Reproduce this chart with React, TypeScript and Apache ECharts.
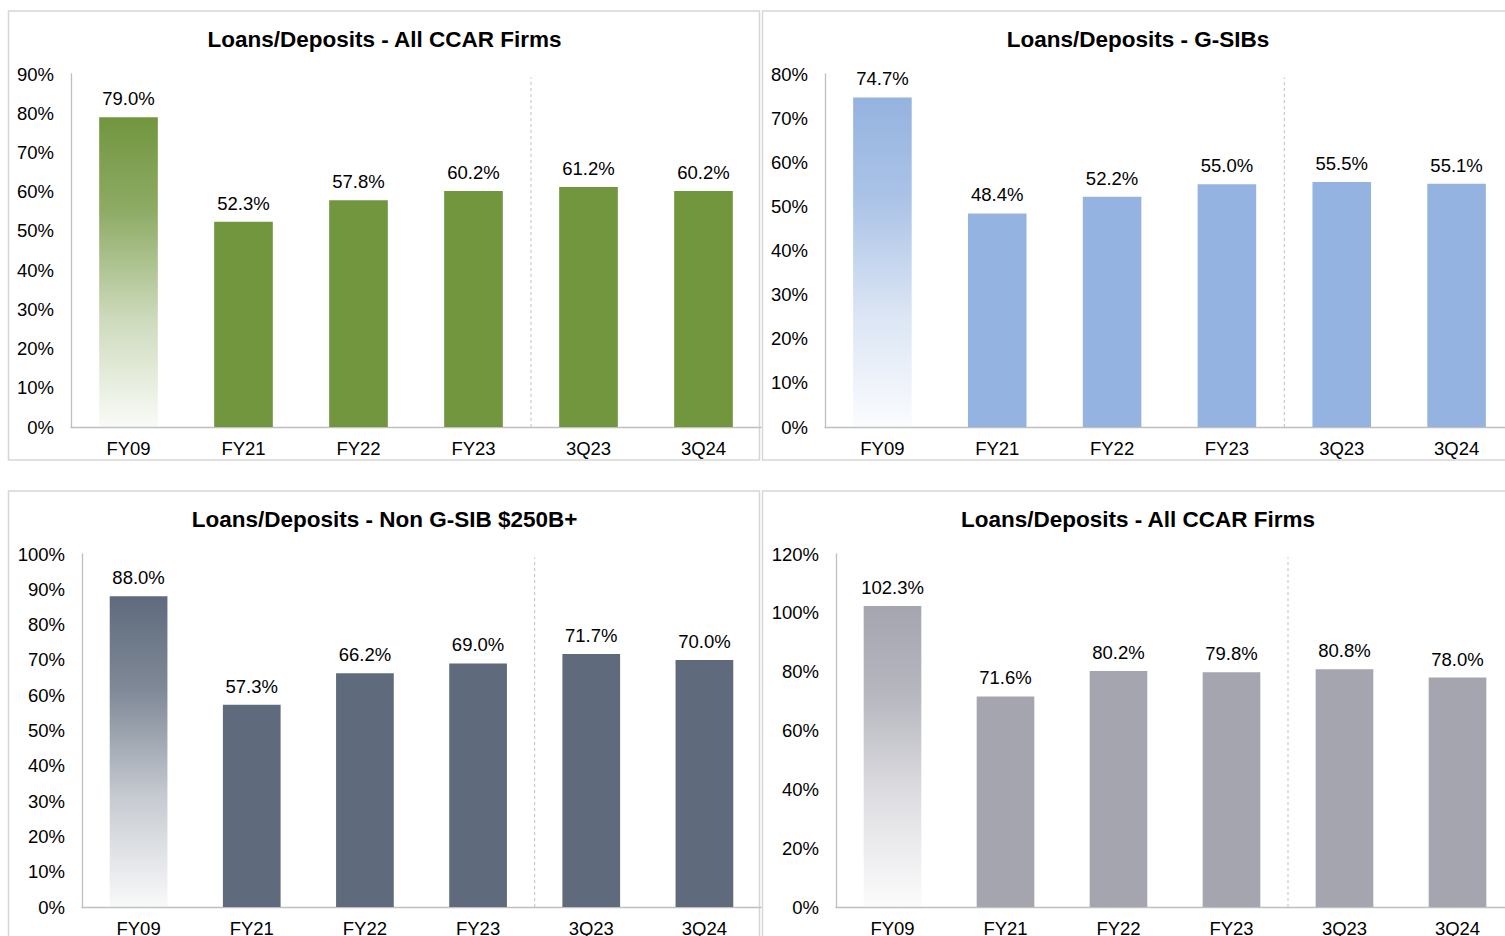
import React, { useEffect, useRef } from "react";
import * as echarts from "echarts";

const categories = ["FY09", "FY21", "FY22", "FY23", "3Q23", "3Q24"];

const titles = [
  "Loans/Deposits - All CCAR Firms",
  "Loans/Deposits - G-SIBs",
  "Loans/Deposits - Non G-SIB $250B+",
  "Loans/Deposits - All CCAR Firms",
];

const allCcarValues = [79.0, 52.3, 57.8, 60.2, 61.2, 60.2];
const gsibValues = [74.7, 48.4, 52.2, 55.0, 55.5, 55.1];
const nonGsibValues = [88.0, 57.3, 66.2, 69.0, 71.7, 70.0];
const allCcar2Values = [102.3, 71.6, 80.2, 79.8, 80.8, 78.0];

const seriesValues = [allCcarValues, gsibValues, nonGsibValues, allCcar2Values];
const yMax = [90, 80, 100, 120];
const yInterval = [10, 10, 10, 20];
// separator boundary: number of annual categories before the quarterly ones
const separatorAt = 4;

const colors = ["#71963e", "#95b3e0", "#5f6b7d", "#a5a5b0"];

// layout (positions only)
const grids = [
  { left: 71, top: 74, width: 690, height: 353, title: { x: 384.5, y: 39 } },
  { left: 825, top: 74, width: 689, height: 353, title: { x: 1138, y: 39 } },
  { left: 82, top: 554, width: 679, height: 353, title: { x: 384.5, y: 519 } },
  { left: 836, top: 554, width: 678, height: 353, title: { x: 1138, y: 519 } },
];
const panels = [
  { x: 8.5, y: 11, w: 751, h: 449 },
  { x: 762.5, y: 11, w: 752, h: 449 },
  { x: 8.5, y: 491, w: 751, h: 480 },
  { x: 762.5, y: 491, w: 752, h: 480 },
];

const FONT = "'Liberation Sans', Arial, sans-serif";

function hexA(hex: string, a: number) {
  const r = parseInt(hex.slice(1, 3), 16);
  const g = parseInt(hex.slice(3, 5), 16);
  const b = parseInt(hex.slice(5, 7), 16);
  return `rgba(${r},${g},${b},${a})`;
}

export default function App() {
  const ref = useRef<HTMLDivElement>(null);
  useEffect(() => {
    if (!ref.current) return;
    const chart = echarts.init(ref.current, undefined, { renderer: "svg" });
    const catAxes = grids.map((_, i) => ({
      type: "category",
      gridIndex: i,
      data: categories,
      boundaryGap: true,
      axisLine: { show: true, lineStyle: { color: "#bfbfbf", width: 1.3 } },
      axisTick: { show: false },
      axisLabel: { fontFamily: FONT, fontSize: 18.5, color: "#000", margin: 12 },
      splitLine: { show: false },
    }));
    // hidden value axes spanning the same category width, used for the separator line
    const sepAxes = grids.map((_, i) => ({
      type: "value",
      gridIndex: i,
      min: 0,
      max: categories.length,
      show: false,
    }));
    const barSeries = seriesValues.map((vals, i) => ({
      type: "bar",
      xAxisIndex: i,
      yAxisIndex: i,
      barWidth: "51%",
      data: vals.map((v, j) =>
        j === 0
          ? {
              value: v,
              itemStyle: {
                color: new echarts.graphic.LinearGradient(0, 0, 0, 1, [
                  { offset: 0, color: hexA(colors[i], 1) },
                  { offset: 0.3, color: hexA(colors[i], 0.8) },
                  { offset: 0.65, color: hexA(colors[i], 0.35) },
                  { offset: 1, color: hexA(colors[i], 0.04) },
                ]),
              },
            }
          : v
      ),
      itemStyle: { color: colors[i] },
      label: {
        show: true,
        position: "top",
        distance: 9,
        fontFamily: FONT,
        fontSize: 18.5,
        color: "#000",
        formatter: (p: any) => `${Number(p.value).toFixed(1)}%`,
      },
      z: 2,
    }));
    const sepSeries = grids.map((_, i) => ({
      type: "line",
      xAxisIndex: grids.length + i,
      yAxisIndex: i,
      data: [
        [separatorAt, 0],
        [separatorAt, yMax[i] * 0.99],
      ],
      showSymbol: false,
      symbol: "none",
      silent: true,
      lineStyle: { color: "#bfbfbf", type: [3, 3], width: 1 },
      label: { show: false },
      z: 1,
    }));
    const option: any = {
      animation: false,
      backgroundColor: "#ffffff",
      title: grids.map((g, i) => ({
        text: titles[i],
        left: g.title.x,
        top: g.title.y,
        padding: 0,
        textAlign: "center",
        textVerticalAlign: "middle",
        textStyle: { fontFamily: FONT, fontSize: 22.5, fontWeight: "bold", color: "#000" },
      })),
      grid: grids.map((g) => ({ left: g.left, top: g.top, width: g.width, height: g.height })),
      xAxis: [...catAxes, ...sepAxes],
      yAxis: grids.map((_, i) => ({
        type: "value",
        gridIndex: i,
        min: 0,
        max: yMax[i],
        interval: yInterval[i],
        axisLine: { show: true, lineStyle: { color: "#bfbfbf", width: 1.3 } },
        axisTick: { show: false },
        splitLine: { show: false },
        axisLabel: {
          fontFamily: FONT,
          fontSize: 18.5,
          color: "#000",
          margin: 17,
          formatter: (v: number) => `${v}%`,
        },
      })),
      series: [...sepSeries, ...barSeries],
      graphic: panels.map((p) => ({
        type: "rect",
        shape: { x: p.x, y: p.y, width: p.w, height: p.h },
        style: { fill: "none", stroke: "#d6d6d6", lineWidth: 1.5 },
        silent: true,
        z: -1,
      })),
    };
    chart.setOption(option);
    return () => chart.dispose();
  }, []);
  return (
    <div style={{ position: "fixed", left: 0, top: 0, width: 1505, height: 936, overflow: "hidden" }}>
      <div ref={ref} style={{ width: 1530, height: 980 }} />
    </div>
  );
}
